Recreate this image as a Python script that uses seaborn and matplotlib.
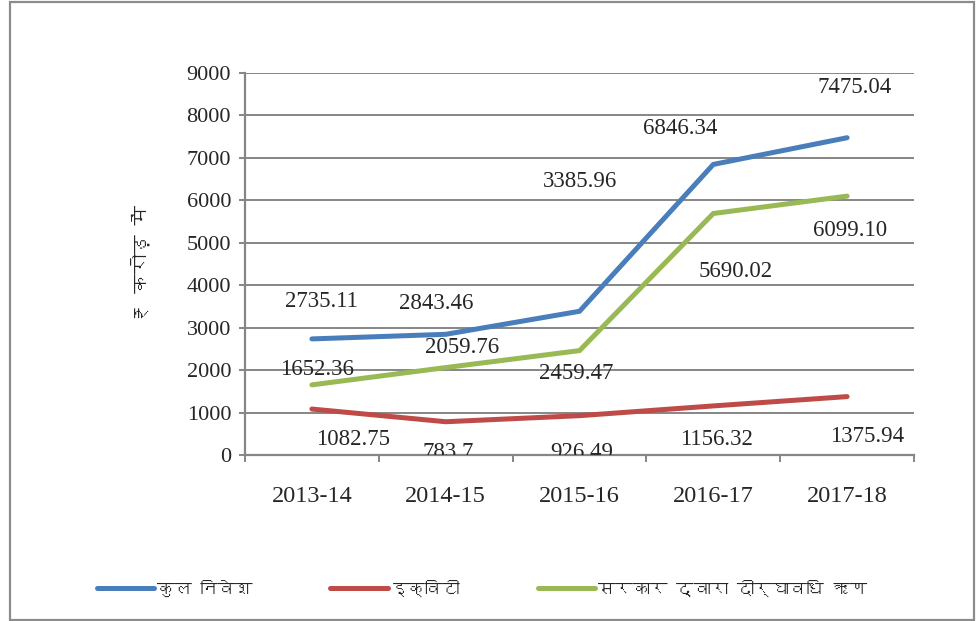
import numpy as np
import pandas as pd
import matplotlib
matplotlib.use('Agg')
import matplotlib.pyplot as plt
import seaborn as sns
from matplotlib import font_manager
from matplotlib.ft2font import FT2Font
from matplotlib.patches import Rectangle

years = ['2013-14', '2014-15', '2015-16', '2016-17', '2017-18']
total_invest = [2735.11, 2843.46, 3385.96, 6846.34, 7475.04]
equity = [1082.75, 783.7, 926.49, 1156.32, 1375.94]
govt_loan = [1652.36, 2059.76, 2459.47, 5690.02, 6099.10]

label_total = ['2735.11', '2843.46', '3385.96', '6846.34', '7475.04']
label_equity = ['1082.75', '783.7', '926.49', '1156.32', '1375.94']
label_govt = ['1652.36', '2059.76', '2459.47', '5690.02', '6099.10']

series_names = ['कुल निवेश', 'इक्विटी', 'सरकार द्वारा दीर्घावधि ऋण']
colors = ['#4A7EBB', '#BE4B48', '#98B954']
ylabel = '₹ करोड़ में'

# label offsets in pixels (dx, dy), like the hand-moved labels in the original
off_total = [(10, 37), (-10, 31), (1, 130), (-33, 36), (8, 50)]
off_equity = [(41, -30), (2, -31), (2, -37), (3, -34), (20, -40)]
off_govt = [(5, 15), (16, 20), (-3, -23), (22, -58), (3, -34)]


def find_font(ch, fallback='DejaVu Sans'):
    for f in font_manager.fontManager.ttflist:
        try:
            if ord(ch) in FT2Font(f.fname).get_charmap():
                return f.name
        except Exception:
            pass
    return fallback


hindi_font = find_font('क')

df = pd.DataFrame({
    'year': years * 3,
    'value': total_invest + equity + govt_loan,
    'series': [series_names[0]] * 5 + [series_names[1]] * 5 + [series_names[2]] * 5,
})

sns.set_style('white')
plt.rcParams['font.family'] = ['Liberation Serif', 'DejaVu Serif']

fig = plt.figure(figsize=(9.79, 6.21), dpi=100)
ax = fig.add_axes([245 / 979, 1 - 455 / 621, 669 / 979, 382 / 621])

sns.lineplot(data=df, x='year', y='value', hue='series', hue_order=series_names,
             palette=colors, linewidth=3.6, sort=False, ax=ax, legend=False,
             solid_capstyle='round', solid_joinstyle='miter')

grid_c = '#868686'
ax.set_ylim(0, 9000)
ax.set_xlim(-0.5, 4.5)
ax.set_yticks(np.arange(0, 9001, 1000))
ax.set_xticks(range(len(years)))
ax.set_xticklabels(years)
ax.set_xticks(np.arange(-0.5, 5, 1), minor=True)
ax.yaxis.grid(True, color=grid_c, linewidth=1.4)
ax.set_axisbelow(True)
for s in ['top', 'right']:
    ax.spines[s].set_visible(False)
for s in ['left', 'bottom']:
    ax.spines[s].set_color(grid_c)
    ax.spines[s].set_linewidth(1.6)
ax.tick_params(axis='y', length=4, width=1.4, color=grid_c, labelsize=16, pad=6, left=True)
ax.tick_params(axis='x', which='major', length=0, labelsize=17.5, pad=22)
ax.tick_params(axis='x', which='minor', length=5, width=1.4, color=grid_c, bottom=True)
ax.set_xlabel('')
ax.set_ylabel(ylabel, family=[hindi_font, 'DejaVu Sans'], fontsize=14, fontweight='bold')
ax.yaxis.set_label_coords(-0.142, 0.5)

for vals, texts, offs in [(total_invest, label_total, off_total),
                          (equity, label_equity, off_equity),
                          (govt_loan, label_govt, off_govt)]:
    for i, (v, t, o) in enumerate(zip(vals, texts, offs)):
        ax.annotate(t, xy=(i, v), xytext=o, textcoords='offset pixels',
                    ha='center', va='center', fontsize=16.5, clip_on=True,
                    annotation_clip=False)

handles = [plt.Line2D([], [], color=c, linewidth=3.6, solid_capstyle='round') for c in colors]
fig.legend(handles, series_names, loc='center', bbox_to_anchor=(482 / 979, 1 - 588 / 621),
           ncol=3, frameon=False, handlelength=3.3, handletextpad=0.15, columnspacing=4.5,
           prop={'family': [hindi_font, 'DejaVu Sans'], 'size': 12.5})

fig.patches.append(Rectangle((10 / 979, 1 / 621), 964 / 979, 618 / 621, transform=fig.transFigure,
                             fill=False, edgecolor='#8c8c8c', linewidth=1.6))

fig.savefig('out.png', dpi=100)
